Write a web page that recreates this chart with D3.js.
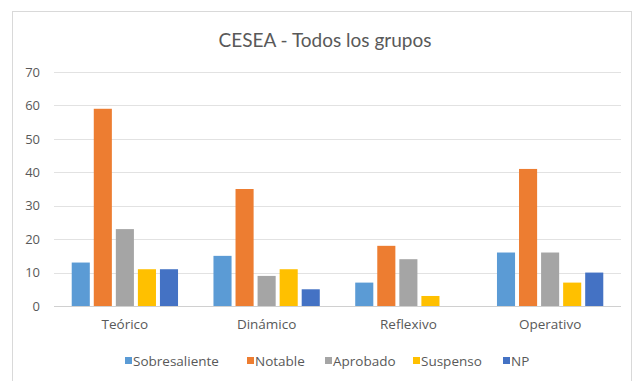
<!DOCTYPE html>
<html>
<head>
<meta charset="utf-8">
<script src="https://cdn.jsdelivr.net/npm/d3@7"></script>
<style>
  html, body { margin: 0; padding: 0; background: #fff; }
  svg text { font-family: "Open Sans", sans-serif; fill: #595959; }
  svg text.title { font-family: Lato, sans-serif; }
</style>
</head>
<body>
<svg id="chart" width="637" height="381"></svg>
<script>
// Categories, series and their values
const categories = ["Teórico", "Dinámico", "Reflexivo", "Operativo"];
const seriesNames = ["Sobresaliente", "Notable", "Aprobado", "Suspenso", "NP"];
const sobresaliente = [13, 15, 7, 16];
const notable = [59, 35, 18, 41];
const aprobado = [23, 9, 14, 16];
const suspenso = [11, 11, 3, 7];
const np = [11, 5, 0, 10];
const yTicks = [0, 10, 20, 30, 40, 50, 60, 70];
const colors = ["#5B9BD5", "#ED7D31", "#A5A5A5", "#FFC000", "#4472C4"];
const title = "CESEA - Todos los grupos";

const seriesValues = [sobresaliente, notable, aprobado, suspenso, np];

const svg = d3.select("#chart");

// Chart area frame
svg.append("rect")
  .attr("x", 12.5).attr("y", 11.5)
  .attr("width", 619).attr("height", 380)
  .attr("fill", "#fff").attr("stroke", "#d9d9d9").attr("stroke-width", 1);

const plot = { left: 54, right: 621, top: 72, bottom: 306 };

const x0 = d3.scaleBand().domain(categories)
  .range([plot.left, plot.right]).paddingInner(0.25).paddingOuter(0.125);
const x1 = d3.scaleBand().domain(seriesNames)
  .range([0, x0.bandwidth()]).paddingInner(0.18).paddingOuter(0);
const y = d3.scaleLinear().domain([0, 70]).range([plot.bottom, plot.top]);

// Horizontal gridlines
svg.append("g").selectAll("line").data(yTicks).join("line")
  .attr("x1", plot.left).attr("x2", plot.right)
  .attr("y1", d => Math.round(y(d)) + 0.5).attr("y2", d => Math.round(y(d)) + 0.5)
  .attr("stroke", d => d === 0 ? "#d0d0d0" : "#e2e2e2").attr("stroke-width", 1);

// Y axis labels
const yAxis = d3.axisLeft(y).tickValues(yTicks).tickSize(0).tickPadding(0);
const gy = svg.append("g").attr("transform", `translate(40,0)`).call(yAxis);
gy.select(".domain").remove();
gy.selectAll("text").attr("font-size", 13).attr("fill", "#595959")
  .style("font-family", "'Open Sans', sans-serif");

// Bars
const groups = svg.append("g").selectAll("g").data(categories).join("g")
  .attr("transform", d => `translate(${x0(d)},0)`);
groups.selectAll("rect")
  .data((c, ci) => seriesNames.map((s, si) => ({ s, si, v: seriesValues[si][ci] })))
  .join("rect")
  .attr("x", d => x1(d.s))
  .attr("width", x1.bandwidth())
  .attr("y", d => y(d.v))
  .attr("height", d => y(0) - y(d.v))
  .attr("fill", d => colors[d.si]);

// X axis labels
const xAxis = d3.axisBottom(x0).tickSize(0).tickPadding(0);
const gx = svg.append("g").attr("transform", `translate(0,${plot.bottom + 13})`).call(xAxis);
gx.select(".domain").remove();
gx.selectAll("text").attr("font-size", 13.5).attr("fill", "#595959")
  .style("font-family", "'Open Sans', sans-serif");

// Title
svg.append("text")
  .attr("class", "title")
  .attr("x", 325).attr("y", 47)
  .attr("text-anchor", "middle")
  .attr("font-size", 19)
  .text(title);

// Legend
const legendX = [125, 247, 325, 413, 503];
const legend = svg.append("g").selectAll("g").data(seriesNames).join("g")
  .attr("transform", (d, i) => `translate(${legendX[i]},357)`);
legend.append("rect").attr("width", 7).attr("height", 7).attr("fill", (d, i) => colors[i]);
legend.append("text").attr("x", 8).attr("y", 8.5).attr("font-size", 13.5).text(d => d);
</script>
</body>
</html>
